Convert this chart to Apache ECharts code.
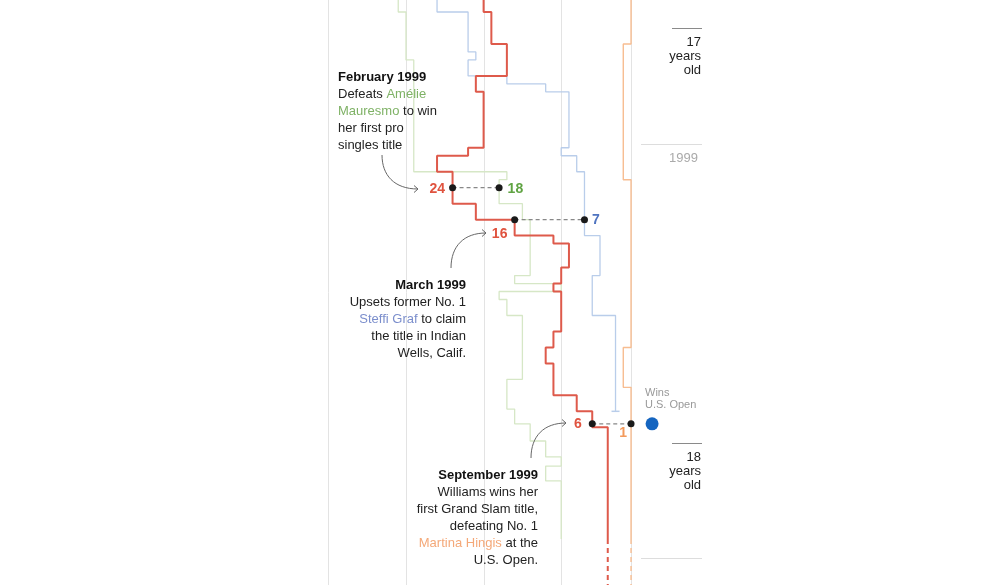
<!DOCTYPE html>
<html><head><meta charset="utf-8">
<script src="https://cdn.jsdelivr.net/npm/echarts@6/dist/echarts.min.js"></script>
<style>html,body{margin:0;padding:0;background:#fff}#c{width:1000px;height:585px}</style>
</head><body><div id="c"></div>
<script>
// ---------------- DATA ----------------
// Weekly WTA ranking changes (date the ranking took effect, rank)
const serenaDates = ['1998-08-31','1998-09-14','1998-10-12','1998-11-09','1998-11-23','1999-01-11','1999-01-18','1999-02-01','1999-03-01','1999-03-15','1999-03-29','1999-04-05','1999-04-26','1999-05-10','1999-05-17','1999-06-21','1999-07-05','1999-07-19','1999-08-16','1999-08-30','1999-09-13','1999-12-20'];
const serenaRanks = [20,19,17,21,20,22,26,24,21,16,11,9,10,11,10,11,12,11,8,6,4,4];

const hingisDates = ['1998-08-31','1998-10-12','1999-02-08','1999-07-05','1999-08-09','1999-12-20'];
const hingisRanks = [1,2,1,2,1,1];

const grafDates = ['1998-08-31','1998-09-14','1998-10-19','1998-10-26','1998-11-09','1998-11-16','1998-11-23','1999-01-11','1999-01-18','1999-02-01','1999-03-29','1999-05-03','1999-06-07','1999-08-30'];
const grafRanks = [26,22,21,22,17,12,9,10,8,7,5,6,3,3];

const mauresmoDates = ['1998-08-31','1998-09-14','1998-10-26','1999-02-01','1999-02-08','1999-03-01','1999-03-15','1999-05-03','1999-05-10','1999-05-17','1999-05-24','1999-06-07','1999-08-02','1999-08-28','1999-09-10','1999-09-25','1999-10-09','1999-10-17','1999-10-30','1999-12-20'];
const mauresmoRanks = [31,30,29,17,18,15,14,16,10,18,17,15,17,16,14,12,10,12,10,10];

const projectionEnd = '2000-03-01';

// Key matches: date, Serena's rank, opponent's rank
const eventDates = ['1999-02-15','1999-03-15','1999-09-10'];
const eventSerenaRanks = [24,16,6];
const eventOpponentRanks = [18,7,1];

const gridRanks = [1,10,20,30,40];

const ageDates = ['1998-09-28','1999-09-27'];
const ageLabels = ['17\nyears\nold','18\nyears\nold'];
const yearDates = ['1999-01-08','2000-01-06'];
const yearLabels = ['1999',''];

const usOpenDate = '1999-09-10';
const usOpenLabel = 'Wins\nU.S. Open';

// ---------------- LAYOUT / STYLE ----------------
const F = '"Liberation Sans", Arial, sans-serif';
const T = s => Date.parse(s + 'T00:00:00Z');
const DAY = 864e5;
const ORIGIN = T('1998-09-14');
const yMin = ORIGIN - 10.52 * DAY, yMax = ORIGIN + 502.23 * DAY;
const EVENT_COL = -1.71;

const C = {red:'#de5a4b', blue:'#b9cdea', green:'#d6e7c6', orange:'#f7bd91',
  redT:'#e0533f', greenT:'#5fa342', blueT:'#4f74c0', orangeT:'#f39a5c'};

function stepLine(dates, ranks, color, width, z) {
  return {type:'line', data: dates.map((d,i)=>[ranks[i], T(d)]), step:'end', symbol:'none',
    lineStyle:{color, width}, z, silent:true, animation:false, clip:true};
}
function dashLine(dates, ranks, color, width, z) {
  const last = dates.length - 1;
  return {type:'line', data:[[ranks[last], T(dates[last])],[ranks[last], T(projectionEnd)]], symbol:'none',
    lineStyle:{color, width, type:[5,4]}, z, silent:true, animation:false};
}

const series = [];
// gridlines
series.push({type:'custom', z:1, silent:true, animation:false,
  data: gridRanks.map(r => [r, yMin]),
  renderItem: (p, api) => {
    const a = api.coord([api.value(0), yMin]), b = api.coord([api.value(0), yMax]);
    const x = Math.round(a[0]) + 0.5;
    return {type:'line', shape:{x1:x, y1:a[1], x2:x, y2:b[1]}, style:{stroke:'#e3e3e3', lineWidth:1}};
  }});
// time markers on the right
function markerSeries(dates, labels, x1, stroke, txtColor, txtX) {
  return {type:'custom', z:1, silent:true, animation:false,
    data: dates.map((d,i)=>[0, T(d), i]),
    renderItem: (p, api) => {
      const y = Math.round(api.coord([0, api.value(1)])[1]) + 0.5;
      const i = api.value(2);
      return {type:'group', children:[
        {type:'line', shape:{x1, y1:y, x2:702, y2:y}, style:{stroke, lineWidth:1}},
        {type:'text', style:{text:labels[i], x: txtX, y: y + 6.5, align:'right', verticalAlign:'top',
          font:'13px ' + F, fill: txtColor, lineHeight: 14}}
      ]};
    }};
}
series.push(markerSeries(ageDates, ageLabels, 672, '#8a8a8a', '#222', 701));
series.push(markerSeries(yearDates, yearLabels, 641, '#dddddd', '#aaa', 698));

series.push(stepLine(mauresmoDates, mauresmoRanks, C.green, 1.3, 2));
series.push(stepLine(grafDates, grafRanks, C.blue, 1.3, 3));
series.push(stepLine(hingisDates, hingisRanks, C.orange, 1.4, 4));
series.push(stepLine(serenaDates, serenaRanks, C.red, 2, 5));
series.push(dashLine(hingisDates, hingisRanks, C.orange, 1.4, 4));
series.push(dashLine(serenaDates, serenaRanks, C.red, 2, 5));
// Graf end cap
series.push({type:'scatter', z:3, silent:true, animation:false, symbol:'rect', symbolSize:[8,1.5],
  itemStyle:{color:C.blue, opacity:1}, data:[[grafRanks[grafRanks.length-1], T(grafDates[grafDates.length-1])]]});

// event connectors
eventDates.forEach((d,i) => {
  series.push({type:'line', z:6, silent:true, animation:false, symbol:'none',
    data:[[eventSerenaRanks[i], T(d)],[eventOpponentRanks[i], T(d)]],
    lineStyle:{color:'#888', width:1.3, type:[4,3]}});
});
// event dots with labels
const lbl = (color, extra) => Object.assign({show:true, fontFamily:F, fontSize:14, fontWeight:'bold', color}, extra);
const serenaLabelPos = [{position:'left', distance:4, offset:[0,1.5]}, {position:'inside', offset:[-15,14.5]}, {position:'left', distance:7}];
const oppLabelPos = [{position:'right', distance:5, offset:[0,1.5]}, {position:'right', distance:4, offset:[0,0.5]}, {position:'inside', offset:[-8,9]}];
const oppColors = [C.greenT, C.blueT, C.orangeT];
const dotData = [];
eventDates.forEach((d,i) => {
  dotData.push({value:[eventSerenaRanks[i], T(d)], label: lbl(C.redT, Object.assign({formatter:String(eventSerenaRanks[i])}, serenaLabelPos[i]))});
  dotData.push({value:[eventOpponentRanks[i], T(d)], label: lbl(oppColors[i], Object.assign({formatter:String(eventOpponentRanks[i])}, oppLabelPos[i]))});
});
series.push({type:'scatter', z:7, silent:true, animation:false, symbolSize:7, itemStyle:{color:'#1a1a1a', opacity:1}, data: dotData});
// US Open event marker
series.push({type:'scatter', z:7, silent:true, animation:false, symbolSize:13, itemStyle:{color:'#1565c0', opacity:1},
  data:[[EVENT_COL, T(usOpenDate)]]});

const rich = {
  b:{fontFamily:F, fontSize:13, fontWeight:'bold', fill:'#111', lineHeight:17},
  n:{fontFamily:F, fontSize:13, fill:'#222', lineHeight:17},
  g:{fontFamily:F, fontSize:13, fill:'#7fb266', lineHeight:17},
  bl:{fontFamily:F, fontSize:13, fill:'#7b8ecc', lineHeight:17},
  o:{fontFamily:F, fontSize:13, fill:'#f4a878', lineHeight:17}
};
function note(x, y, align, text) {
  return {type:'text', x, y, silent:true, z:10, style:{text, align, verticalAlign:'top', rich, font:'13px ' + F, lineHeight:17}};
}
function arrow(x0,y0,c1x,c1y,c2x,c2y,x1,y1) {
  return [
    {type:'bezierCurve', silent:true, z:10, shape:{x1:x0,y1:y0,cpx1:c1x,cpy1:c1y,cpx2:c2x,cpy2:c2y,x2:x1,y2:y1}, style:{stroke:'#666', lineWidth:1, fill:null}},
    {type:'polyline', silent:true, z:10, shape:{points:[[x1-4,y1-3.5],[x1,y1],[x1-4,y1+3.5]]}, style:{stroke:'#666', lineWidth:1, fill:null}}
  ];
}

const graphic = [
  note(338, 68.5, 'left', '{b|February 1999}\n{n|Defeats }{g|Amélie}\n{g|Mauresmo}{n| to win}\n{n|her first pro}\n{n|singles title}'),
  note(466, 276.5, 'right', '{b|March 1999}\n{n|Upsets former No. 1}\n{bl|Steffi Graf}{n| to claim}\n{n|the title in Indian}\n{n|Wells, Calif.}'),
  note(538, 466.5, 'right', '{b|September 1999}\n{n|Williams wins her}\n{n|first Grand Slam title,}\n{n|defeating No. 1}\n{o|Martina Hingis}{n| at the}\n{n|U.S. Open.}'),
  {type:'text', x:645, y:387, silent:true, style:{text:usOpenLabel, font:'11px ' + F, fill:'#999', lineHeight:12, verticalAlign:'top'}},
  ...arrow(382,155, 382,175, 394,189, 418,189),
  ...arrow(451,268, 451,246, 464,233, 486,233),
  ...arrow(531,458, 531,436, 544,423, 566,423)
];

const chart = echarts.init(document.getElementById('c'), null, {renderer:'canvas'});
chart.setOption({
  animation:false,
  grid:{left:328.4, right:283.6, top:0, bottom:0, containLabel:false},
  xAxis:{type:'value', min:-10, max:40, inverse:true, show:false},
  yAxis:{type:'time', min:yMin, max:yMax, inverse:true, show:false},
  series, graphic
});
</script></body></html>
